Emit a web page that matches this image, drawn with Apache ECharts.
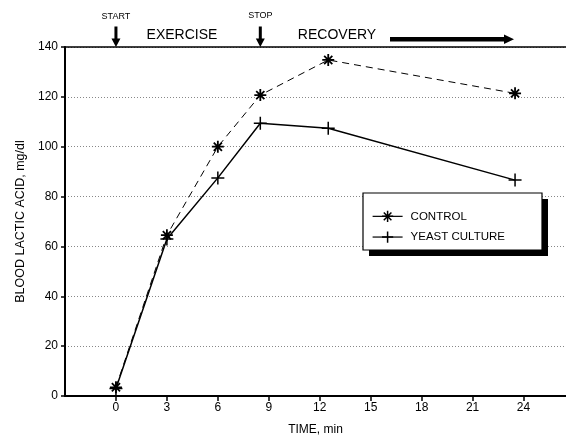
<!DOCTYPE html>
<html>
<head>
<meta charset="utf-8">
<script src="https://cdn.jsdelivr.net/npm/echarts@6/dist/echarts.min.js"></script>
<style>html,body{margin:0;padding:0;background:#fff}#c{width:566px;height:439px}</style>
</head>
<body>
<div id="c"></div>
<script>
var time = [0, 3, 6, 8.5, 12.5, 23.5];
var control = [3.5, 64.5, 100, 120.7, 134.8, 121.4];
var yeast = [3, 63, 87.5, 109.4, 107.4, 86.6];
var xTicks = [0, 3, 6, 9, 12, 15, 18, 21, 24];
var yTicks = [0, 20, 40, 60, 80, 100, 120, 140];
var seriesNames = ['CONTROL', 'YEAST CULTURE'];
var startTime = 0, stopTime = 8.5;

var FONT = 'Liberation Sans, Arial, sans-serif';
var ASTER = 'path://M5 0 L5 10 M0 5 L10 5 M1.6 1.6 L8.4 8.4 M8.4 1.6 L1.6 8.4';
var PLUS = 'path://M5 0 L5 10 M0 5 L10 5';

function pairs(xs, ys) { return xs.map(function (x, i) { return [x, ys[i]]; }); }

var chart = echarts.init(document.getElementById('c'), null, { renderer: 'canvas' });
var option = {
  animation: false,
  backgroundColor: '#fff',
  textStyle: { fontFamily: FONT, color: '#000' },
  grid: { left: 65, top: 47, right: 0, bottom: 43, containLabel: false, outerBoundsMode: 'none' },
  xAxis: [{
    type: 'value', min: -3, max: 26.5, interval: 3,
    name: 'TIME, min', nameLocation: 'middle', nameGap: 28,
    nameTextStyle: { fontSize: 12, color: '#000', fontFamily: FONT },
    axisLine: { show: true, onZero: false, lineStyle: { color: '#000', width: 2 } },
    axisTick: { show: true, length: 5, customValues: xTicks, lineStyle: { color: '#000', width: 1.5 } },
    axisLabel: { fontSize: 12, color: '#000', margin: 6, fontFamily: FONT, customValues: xTicks,
      formatter: function (v) { return xTicks.indexOf(v) >= 0 ? String(v) : ''; } },
    splitLine: { show: false }
  }, {
    type: 'value', min: -3, max: 26.5, position: 'top',
    axisLine: { show: true, onZero: false, lineStyle: { color: '#000', width: 1.5 } },
    axisTick: { show: false }, axisLabel: { show: false }, splitLine: { show: false }
  }],
  yAxis: {
    type: 'value', min: 0, max: 140, interval: 20,
    name: 'BLOOD LACTIC ACID, mg/dl', nameLocation: 'middle', nameGap: 38,
    nameTextStyle: { fontSize: 12.5, color: '#000', fontFamily: FONT },
    axisLine: { show: true, onZero: false, lineStyle: { color: '#000', width: 2 } },
    axisTick: { show: true, length: 4, lineStyle: { color: '#000', width: 1.5 } },
    axisLabel: { fontSize: 12, color: '#000', margin: 7, fontFamily: FONT,
      formatter: function (v) { return yTicks.indexOf(v) >= 0 ? String(v) : ''; } },
    splitLine: { show: true, lineStyle: { color: '#888', width: 1, type: [1, 2] } }
  },
  legend: {
    orient: 'vertical', left: 367, top: 205, itemGap: 8,
    itemWidth: 30, itemHeight: 14,
    textStyle: { fontSize: 11.5, color: '#000', fontFamily: FONT, padding: [0, 0, 0, 3] },
    data: [
      { name: seriesNames[0], itemStyle: { color: '#000', borderColor: '#000', borderWidth: 1.5 }, lineStyle: { type: 'solid', width: 1.2 } },
      { name: seriesNames[1], itemStyle: { color: '#000', borderColor: '#000', borderWidth: 1.5 }, lineStyle: { type: 'solid', width: 1.2 } }
    ],
    z: 20
  },
  graphic: [],
  series: [
    {
      name: seriesNames[1], type: 'line', data: pairs(time, yeast),
      symbol: PLUS, symbolSize: 13,
      lineStyle: { color: '#000', width: 1.5, type: 'solid' },
      itemStyle: { color: '#000', borderColor: '#000', borderWidth: 1.5 },
      z: 3
    },
    {
      name: seriesNames[0], type: 'line', data: pairs(time, control),
      symbol: ASTER, symbolSize: 12,
      lineStyle: { color: '#000', width: 1, type: [7, 5] },
      itemStyle: { color: '#000', borderColor: '#000', borderWidth: 1.8 },
      z: 4
    }
  ]
};
chart.setOption(option);

function downArrow(x) {
  return {
    type: 'polygon', z: 30,
    shape: { points: [[x - 1.5, 26.5], [x + 1.5, 26.5], [x + 1.5, 38.5], [x + 4.5, 38.5], [x, 47], [x - 4.5, 38.5], [x - 1.5, 38.5]] },
    style: { fill: '#000' }
  };
}
var xs = chart.convertToPixel({ xAxisIndex: 0 }, startTime);
var xp = chart.convertToPixel({ xAxisIndex: 0 }, stopTime);
chart.setOption({
  graphic: [
    // legend box with shadow
    { type: 'rect', z: 10, shape: { x: 369, y: 199, width: 179, height: 57 }, style: { fill: '#000' } },
    { type: 'rect', z: 11, shape: { x: 363, y: 193, width: 179, height: 57 }, style: { fill: '#fff', stroke: '#000', lineWidth: 1.2 } },
    // top annotations
    { type: 'text', z: 30, x: xs, y: 17, style: { text: 'START', fontSize: 9, fontFamily: FONT, fill: '#000', align: 'center', verticalAlign: 'middle' } },
    downArrow(xs),
    { type: 'text', z: 30, x: 182, y: 35, style: { text: 'EXERCISE', fontSize: 14, fontFamily: FONT, fill: '#000', align: 'center', verticalAlign: 'middle' } },
    { type: 'text', z: 30, x: xp, y: 16, style: { text: 'STOP', fontSize: 9, fontFamily: FONT, fill: '#000', align: 'center', verticalAlign: 'middle' } },
    downArrow(xp),
    { type: 'text', z: 30, x: 337, y: 35, style: { text: 'RECOVERY', fontSize: 14, fontFamily: FONT, fill: '#000', align: 'center', verticalAlign: 'middle' } },
    { type: 'polygon', z: 30, shape: { points: [[390, 37], [504, 37], [504, 34.5], [514, 39.3], [504, 44], [504, 41.6], [390, 41.6]] }, style: { fill: '#000' } }
  ]
});
</script>
</body>
</html>
